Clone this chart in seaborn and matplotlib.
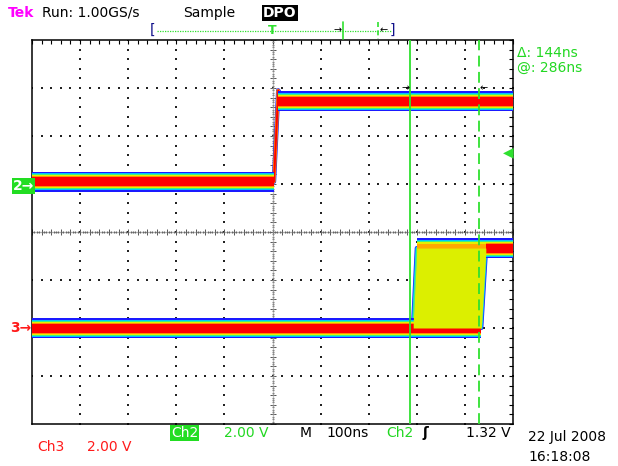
import matplotlib
matplotlib.use("Agg")
import matplotlib.pyplot as plt
from matplotlib.lines import Line2D
import numpy as np
import seaborn as sns

# scope settings
ns_per_div = 100
volts_per_div = 2.0
ch2_offset = 1.0     # divisions above centre
ch3_offset = -2.0
trig_level = 1.32
cursor_t = [286, 430]

# Ch2: clean edge right at the trigger point
ch2_time = [-500, 3, 8, 12, 16, 22, 500]
ch2_volts = [0.1, 0.1, 2.2, 3.9, 3.3, 3.45, 3.45]

# Ch3: jittering edge, earliest and latest acquisitions
ch3_early_time = [-500, 292, 300, 500]
ch3_early_volts = [0.0, 0.0, 3.33, 3.33]
ch3_late_time = [-500, 434, 444, 500]
ch3_late_volts = [0.0, 0.0, 3.33, 3.33]

W, H = 618, 466
GREEN = "#2fe02f"
TXT_GREEN = "#22d822"
RED = "#ff1a1a"

sns.set_style("white")
plt.rcParams["font.family"] = ["DejaVu Sans"]

fig = plt.figure(figsize=(W / 100, H / 100), dpi=100)
ax = fig.add_axes([32 / W, 1 - 424 / H, 481 / W, 384 / H])
ax.set_xlim(-5 * ns_per_div, 5 * ns_per_div)
ax.set_ylim(-4, 4)


def to_div(volts, offset):
    return [v / volts_per_div + offset for v in volts]


ch2_div = to_div(ch2_volts, ch2_offset)
ch3e_div = to_div(ch3_early_volts, ch3_offset)
ch3l_div = to_div(ch3_late_volts, ch3_offset)

PX = 1 / 48.0  # one pixel in divisions
full_layers = [(10, "#1a1aff"), (8.5, "#00c4ff"), (7.5, "#40f080"),
               (6.5, "#e4f000"), (5.5, "#ff9000"), (4.5, "#ff0000")]
core_layers = [(6.5, "#e4f000"), (5.5, "#ff9000"), (4.5, "#ff0000")]
warm_layers = [(10, "#1a1aff"), (8.5, "#00c4ff"), (7.5, "#40f080"),
               (6.5, "#e4f000"), (4.5, "#ffa800")]


def band(t0, t1, y, layers):
    for half, col in layers:
        ax.fill_between([t0, t1], y - half * PX, y + half * PX, color=col, lw=0, zorder=3)


# graticule
yy = np.arange(-4, 4.01, 0.2)
xx = np.arange(-500, 501, 20)
for gx in np.arange(-400, 401, 100):
    if gx != 0:
        ax.scatter(np.full(len(yy), gx), yy, s=0.8, c="#222222", marker="s", lw=0, zorder=1)
for gy in np.arange(-3, 4, 1):
    if gy != 0:
        ax.scatter(xx, np.full(len(xx), gy), s=0.8, c="#222222", marker="s", lw=0, zorder=1)
ax.plot(np.zeros(len(yy)), yy, ls="none", marker="_", ms=4, mew=0.7, color="#555555", zorder=1)
ax.plot(xx, np.zeros(len(xx)), ls="none", marker="|", ms=4, mew=0.7, color="#555555", zorder=1)
ax.plot(np.arange(-500, 501, 5), np.zeros(201), ls="none", marker="s", ms=0.5, color="#666666", zorder=1)
ax.plot(np.zeros(161), np.arange(-4, 4.01, 0.05), ls="none", marker="s", ms=0.5, color="#888888", zorder=1)

ax.set_xticks(xx)
ax.set_yticks(yy)
ax.tick_params(direction="in", length=3, width=0.8, top=True, right=True,
               labelbottom=False, labelleft=False, colors="k")
for s in ax.spines.values():
    s.set_color("k")
    s.set_linewidth(1.1)

# ---- Ch2 trace
for lw, col in [(3.2, "#1a1aff"), (2.4, "#ff9000"), (1.4, "#ff0000")]:
    sns.lineplot(x=ch2_time, y=ch2_div, sort=False, estimator=None, color=col, lw=lw, ax=ax, zorder=2)
band(ch2_time[0], ch2_time[1], ch2_div[0], full_layers)
band(ch2_time[3], ch2_time[-1], ch2_div[-1], full_layers)

# ---- Ch3 trace
for lw, col in [(3.0, "#1a1aff"), (2.0, "#00c4ff"), (1.0, "#40f080")]:
    sns.lineplot(x=ch3_early_time, y=ch3e_div, sort=False, estimator=None, color=col, lw=lw, ax=ax, zorder=2)
    sns.lineplot(x=ch3_late_time, y=ch3l_div, sort=False, estimator=None, color=col, lw=lw, ax=ax, zorder=2)
band(ch3_early_time[0], ch3_late_time[1], ch3e_div[0], full_layers)
band(ch3_early_time[2], ch3_early_time[-1], ch3e_div[-1], warm_layers)
band(ch3_late_time[2], ch3_late_time[-1], ch3l_div[-1], full_layers)
tt = np.linspace(-500, 500, 2001)
y_early = np.interp(tt, ch3_early_time, ch3e_div)
y_late = np.interp(tt, ch3_late_time, ch3l_div)
ax.fill_between(tt, y_late, y_early, where=y_early > y_late + 1e-6, color="#dcef00", lw=0, zorder=4)
band(ch3_early_time[2] - 4, ch3_late_time[1], ch3e_div[0], core_layers)
band(ch3_early_time[2], ch3_late_time[2], ch3e_div[-1], [(4, "#ffa800")])
band(ch3_late_time[2], ch3_late_time[-1], ch3l_div[-1], [(4.5, "#ff0000")])

# cursors
ax.axvline(cursor_t[0], color=GREEN, lw=1.3, zorder=6)
ax.axvline(cursor_t[1], color=GREEN, lw=1.3, ls=(0, (6, 3)), zorder=6)
ax.text(cursor_t[0], 3.0, "\u2192", ha="right", va="center", fontsize=7, color="k", zorder=7)
ax.text(cursor_t[1], 3.0, "\u2190", ha="left", va="center", fontsize=7, color="k", zorder=7)
ax.text(502, trig_level / volts_per_div + ch2_offset, "\u25c0", ha="right", va="center",
        fontsize=10, color=GREEN, zorder=7)


def ftext(x, y, s, **kw):
    kw.setdefault("fontsize", 10)
    kw.setdefault("va", "center")
    fig.text(x / W, 1 - y / H, s, **kw)


# header
ftext(8, 13, "Tek", color="#ff00ff", fontweight="bold")
ftext(42, 13, "Run: 1.00GS/s", color="k")
ftext(183, 13, "Sample", color="k")
ftext(263, 13, "DPO", color="w", fontweight="bold",
      bbox=dict(boxstyle="square,pad=0.08", fc="k", ec="none"))

# record bar
fig.add_artist(Line2D([157 / W, 391 / W], [1 - 31 / H] * 2, color=GREEN, lw=0.9, ls=(0, (1, 1))))
ftext(150, 30, "[", color="#10108a", fontsize=10)
ftext(390, 30, "]", color="#10108a", fontsize=10)
ftext(272, 30, "T", color=GREEN, fontweight="bold", ha="center", fontsize=9)
fig.add_artist(Line2D([343 / W] * 2, [1 - 22 / H, 1 - 39 / H], color=GREEN, lw=1.2))
fig.add_artist(Line2D([378 / W] * 2, [1 - 22 / H, 1 - 39 / H], color=GREEN, lw=1.2, ls=(0, (3, 2))))
ftext(342, 30, "\u2192", color="k", fontsize=7, ha="right")
ftext(380, 30, "\u2190", color="k", fontsize=7, ha="left")

# cursor readouts
ftext(517, 53, "\u0394: 144ns", color=TXT_GREEN)
ftext(517, 68, "@: 286ns", color=TXT_GREEN)

# channel markers
ftext(13, 186, "2\u2192", color="w", fontweight="bold", fontsize=10,
      bbox=dict(boxstyle="square,pad=0.08", fc="#22dd22", ec="none"))
ftext(31, 328, "3\u2192", color=RED, fontsize=10, fontweight="bold", ha="right")

# bottom readouts
ftext(171, 433, "Ch2", color="w", fontsize=10,
      bbox=dict(boxstyle="square,pad=0.08", fc="#22dd22", ec="none"))
ftext(224, 433, "2.00 V", color=TXT_GREEN)
ftext(300, 433, "M", color="k")
ftext(326, 433, "100ns", color="k")
ftext(386, 433, "Ch2", color=TXT_GREEN)
ftext(422, 433, "\u0283", color="k", fontweight="bold")
ftext(466, 433, "1.32 V", color="k")
ftext(528, 437, "22 Jul 2008", color="k")
ftext(528, 457, "16:18:08", color="k")
ftext(37, 447, "Ch3", color=RED)
ftext(87, 447, "2.00 V", color=RED)

fig.savefig("out.png", dpi=100, facecolor="white")
